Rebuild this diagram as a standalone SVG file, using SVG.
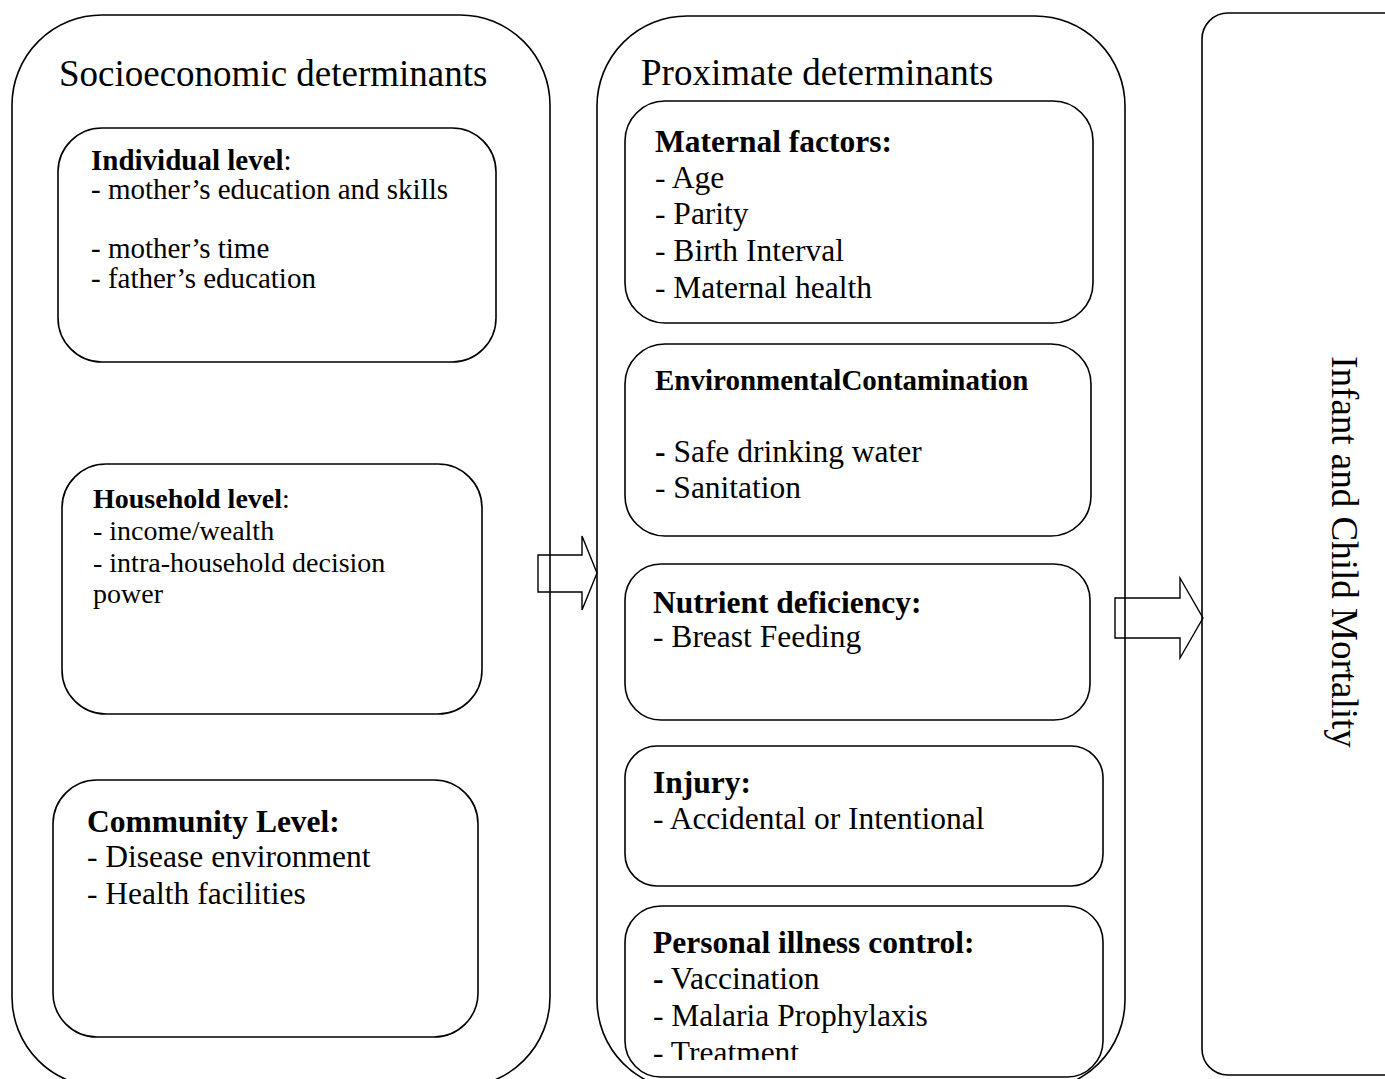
<svg xmlns="http://www.w3.org/2000/svg" width="1385" height="1079" viewBox="0 0 1385 1079">
<style>
.box{fill:none;stroke:#000;stroke-width:1.6}
.t{font-family:"Liberation Serif","Times New Roman",serif;fill:#000}
.b{font-weight:bold}
.arrow{fill:none;stroke:#000;stroke-width:1.4;stroke-linejoin:miter}
</style>
<defs>
<clipPath id="clipPersonal"><rect x="620" y="900" width="500" height="160"/></clipPath>
</defs>
<rect width="1385" height="1079" fill="#fff"/>

<g id="socioeconomic">
<rect class="box" x="12" y="15" width="538" height="1072" rx="90" ry="90"/>
<text class="t" x="59" y="86" font-size="37">Socioeconomic determinants</text>
</g>

<g id="individual">
<rect class="box" x="58" y="128" width="438" height="234" rx="44" ry="44"/>
<text class="t" font-size="29" x="91" y="170"><tspan class="b">Individual level</tspan>:</text>
<text class="t" font-size="29" x="91" y="199">- mother’s education and skills</text>
<text class="t" font-size="29" x="91" y="258">- mother’s time</text>
<text class="t" font-size="29" x="91" y="288">- father’s education</text>
</g>

<g id="household">
<rect class="box" x="62" y="464" width="420" height="250" rx="44" ry="44"/>
<text class="t" font-size="28" x="93" y="508"><tspan class="b">Household level</tspan>:</text>
<text class="t" font-size="28" x="93" y="540">- income/wealth</text>
<text class="t" font-size="28" x="93" y="572">- intra-household decision</text>
<text class="t" font-size="28" x="93" y="603">power</text>
</g>

<g id="community">
<rect class="box" x="53" y="780" width="425" height="257" rx="44" ry="44"/>
<text class="t b" font-size="31.5" x="87" y="832">Community Level:</text>
<text class="t" font-size="31.5" x="87" y="867">- Disease environment</text>
<text class="t" font-size="31.5" x="87" y="904">- Health facilities</text>
</g>

<g id="proximate">
<rect class="box" x="597" y="16" width="528" height="1074" rx="90" ry="90"/>
<text class="t" x="641" y="85" font-size="37">Proximate determinants</text>
</g>

<g id="maternal">
<rect class="box" x="625" y="101" width="468" height="222" rx="40" ry="40"/>
<text class="t b" font-size="31.5" x="655" y="152">Maternal factors:</text>
<text class="t" font-size="31.5" x="655" y="188">- Age</text>
<text class="t" font-size="31.5" x="655" y="224">- Parity</text>
<text class="t" font-size="31.5" x="655" y="261">- Birth Interval</text>
<text class="t" font-size="31.5" x="655" y="298">- Maternal health</text>
</g>

<g id="environmental">
<rect class="box" x="625" y="344" width="466" height="192" rx="40" ry="40"/>
<text class="t b" font-size="29" x="655" y="390">EnvironmentalContamination</text>
<text class="t" font-size="31.5" x="655" y="462"><tspan class="b">-</tspan> Safe drinking water</text>
<text class="t" font-size="31.5" x="655" y="498">- Sanitation</text>
</g>

<g id="nutrient">
<rect class="box" x="625" y="564" width="465" height="156" rx="36" ry="36"/>
<text class="t b" font-size="31.5" x="653" y="613">Nutrient deficiency:</text>
<text class="t" font-size="31.5" x="653" y="647">- Breast Feeding</text>
</g>

<g id="injury">
<rect class="box" x="625" y="746" width="478" height="140" rx="32" ry="32"/>
<text class="t b" font-size="31.5" x="653" y="793">Injury:</text>
<text class="t" font-size="31.5" x="653" y="829">- Accidental or Intentional</text>
</g>

<g id="personal">
<rect class="box" x="625" y="906" width="478" height="171" rx="36" ry="36"/>
<g clip-path="url(#clipPersonal)">
<text class="t b" font-size="31.5" x="653" y="953">Personal illness control:</text>
<text class="t" font-size="31.5" x="653" y="989"><tspan class="b">-</tspan> Vaccination</text>
<text class="t" font-size="31.5" x="653" y="1026">- Malaria Prophylaxis</text>
<text class="t" font-size="31.5" x="653" y="1063">- Treatment</text>
</g>
</g>

<g id="outcome">
<rect class="box" x="1202" y="13" width="260" height="1062" rx="26" ry="26"/>
<text class="t" font-size="37" text-anchor="middle" transform="translate(1332,552) rotate(90)">Infant and Child Mortality</text>
</g>

<g id="connectors">
<path class="arrow" d="M538,555 L582,555 L582,536 L597,573 L582,610 L582,592 L538,592 Z"/>
<path class="arrow" d="M1115,598 L1180,598 L1180,578 L1203,618 L1180,658 L1180,638 L1115,638 Z"/>
</g>
</svg>
